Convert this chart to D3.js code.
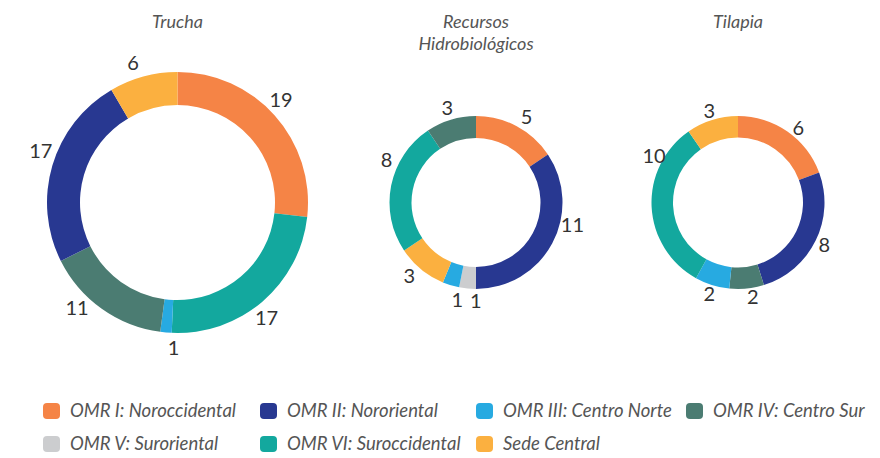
<!DOCTYPE html>
<html>
<head>
<meta charset="utf-8">
<script src="https://cdnjs.cloudflare.com/ajax/libs/d3/7.8.5/d3.min.js"></script>
<style>
  body { margin: 0; background: #fff; }
  .title { font-family: Lato, sans-serif; font-style: italic; font-size: 18px; fill: #555; }
  .val { font-family: Lato, sans-serif; font-size: 20px; fill: #333; }
  .leg { font-family: Lato, sans-serif; font-style: italic; font-size: 18.5px; fill: #555; }
</style>
</head>
<body>
<div class="chart"></div>
<script>
var svgWidth = 880;
var svgHeight = 458;

// Categories and colours
var regions = ["OMR I: Noroccidental", "OMR II: Nororiental", "OMR III: Centro Norte", "OMR IV: Centro Sur",
               "OMR V: Suroriental", "OMR VI: Suroccidental", "Sede Central"];
var colors = ["#F58446", "#283891", "#27AAE1", "#4B7C72", "#CCCDCF", "#13A89E", "#FBB040"];

// Each chart: regions in clockwise order, with their counts
var truchaRegions = [0, 5, 2, 3, 1, 6];
var truchaValues  = [19, 17, 1, 11, 17, 6];

var recursosRegions = [0, 1, 4, 2, 6, 5, 3];
var recursosValues  = [5, 11, 1, 1, 3, 8, 3];

var tilapiaRegions = [0, 1, 3, 2, 5, 6];
var tilapiaValues  = [6, 8, 2, 2, 10, 3];

// label angle nudges (degrees) so the numbers sit where the original put them
var truchaNudge   = [-3, 3, -3.5, 8, 4, -2.5];
var recursosNudge = [2.5, -15, -5.5, -6, 3, 14, 0];
var tilapiaNudge  = [4, 0, -3, 0, 32, 0];

var charts = [
  { title: ["Trucha"], regions: truchaRegions, values: truchaValues, nudge: truchaNudge,
    cx: 177.5, cy: 202.5, outer: 130.5, inner: 97.5, lab: 146 },
  { title: ["Recursos", "Hidrobiológicos"], regions: recursosRegions, values: recursosValues, nudge: recursosNudge,
    cx: 476, cy: 202.5, outer: 86.5, inner: 64.5, lab: 99 },
  { title: ["Tilapia"], regions: tilapiaRegions, values: tilapiaValues, nudge: tilapiaNudge,
    cx: 738, cy: 202.5, outer: 86.5, inner: 65, lab: 96 }
];

var svg = d3.select(".chart")
  .append("svg")
  .attr("width", svgWidth)
  .attr("height", svgHeight);

var pie = d3.pie().sort(null).value(function(d) { return d.value; });

charts.forEach(function(c) {
  var data = c.values.map(function(v, i) { return { value: v, region: c.regions[i], nudge: c.nudge[i] }; });
  var arcs = pie(data);
  var arc = d3.arc().innerRadius(c.inner).outerRadius(c.outer);
  var g = svg.append("g").attr("transform", "translate(" + c.cx + "," + c.cy + ")");

  g.selectAll("path")
    .data(arcs)
    .enter()
    .append("path")
    .attr("d", arc)
    .attr("fill", function(d) { return colors[d.data.region]; });

  function labelAngle(d) {
    return (d.startAngle + d.endAngle) / 2 + d.data.nudge * Math.PI / 180;
  }

  // value labels outside the ring
  g.selectAll("text.val")
    .data(arcs)
    .enter()
    .append("text")
    .attr("class", "val")
    .attr("text-anchor", "middle")
    .attr("dy", "0.35em")
    .attr("x", function(d) { return c.lab * Math.sin(labelAngle(d)); })
    .attr("y", function(d) { return -c.lab * Math.cos(labelAngle(d)); })
    .text(function(d) { return d.data.value; });

  // title
  c.title.forEach(function(t, i) {
    svg.append("text")
      .attr("class", "title")
      .attr("text-anchor", "middle")
      .attr("x", c.cx)
      .attr("y", 28 + i * 22)
      .text(t);
  });
});

// Legend, two rows of four columns
var legX = [43, 260, 476, 686];
var legY = [411, 444];
var legOrder = [0, 1, 2, 3, 4, 5, 6];

var leg = svg.selectAll("g.legend")
  .data(legOrder)
  .enter()
  .append("g")
  .attr("class", "legend")
  .attr("transform", function(d, i) {
    return "translate(" + legX[i % 4] + "," + legY[Math.floor(i / 4)] + ")";
  });

leg.append("rect")
  .attr("x", 0)
  .attr("y", -8)
  .attr("width", 17)
  .attr("height", 16)
  .attr("rx", 4)
  .attr("fill", function(d) { return colors[d]; });

leg.append("text")
  .attr("class", "leg")
  .attr("x", 27)
  .attr("dy", "0.35em")
  .text(function(d) { return regions[d]; });
</script>
</body>
</html>
